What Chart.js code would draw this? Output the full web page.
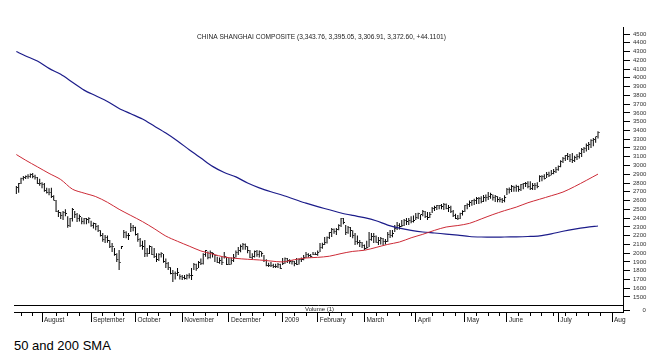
<!DOCTYPE html>
<html>
<head>
<meta charset="utf-8">
<script src="https://cdn.jsdelivr.net/npm/chart.js@4.4.1/dist/chart.umd.min.js"></script>
<style>
  body { margin: 0; background: #fff; }
  #wrap { position: relative; width: 664px; height: 364px; }
  #cap { position: absolute; left: 14px; top: 338px; font: 13px 'Liberation Sans', Arial, sans-serif; color: #000; }
</style>
</head>
<body>
<div id="wrap">
  <canvas id="chart" width="664" height="330"></canvas>
  <div id="cap">50 and 200 SMA</div>
</div>
<script>
// daily bars, trading day 1 = 17 Jul 2008 ... day 250 = 24 Jul 2009
const highs = [
  2765, 2800, 2860, 2880, 2885, 2900, 2910, 2915, 2895, 2870, 2850, 2810, 2800, 2745, 2740, 2745, 2660, 2606, 2492, 2470,
  2480, 2500, 2420, 2400, 2515, 2480, 2457, 2440, 2410, 2400, 2400, 2410, 2370, 2350, 2343, 2320, 2260, 2230, 2207, 2200,
  2150, 2116, 2060, 2000, 2036, 2081, 2264, 2250, 2230, 2343, 2320, 2300, 2230, 2172, 2140, 2150, 2060, 2090, 2080, 2059,
  2000, 2000, 2010, 1990, 1940, 1900, 1840, 1808, 1790, 1830, 1760, 1750, 1750, 1760, 1770, 1830, 1887, 1880, 1910, 1940,
  2000, 2036, 2020, 2030, 2010, 1979, 1960, 1950, 1956, 2013, 1960, 1945, 1950, 1990, 2030, 2070, 2100, 2116, 2110, 2080,
  2036, 2000, 2030, 2036, 2030, 2020, 1979, 1930, 1890, 1899, 1880, 1880, 1887, 1880, 1945, 1950, 1945, 1930, 1920, 1910,
  1945, 1940, 1950, 1980, 2013, 2000, 1990, 2013, 2010, 2030, 2116, 2120, 2184, 2190, 2240, 2287, 2280, 2287, 2330, 2400,
  2402, 2320, 2310, 2298, 2260, 2230, 2200, 2150, 2127, 2100, 2140, 2241, 2230, 2230, 2200, 2184, 2184, 2172, 2160, 2241,
  2264, 2264, 2320, 2355, 2340, 2378, 2390, 2400, 2400, 2420, 2430, 2457, 2460, 2440, 2492, 2480, 2470, 2470, 2526, 2540,
  2550, 2550, 2560, 2572, 2565, 2550, 2540, 2492, 2450, 2435, 2460, 2490, 2550, 2570, 2600, 2606, 2620, 2640, 2640, 2650,
  2663, 2670, 2697, 2690, 2670, 2663, 2650, 2640, 2628, 2660, 2743, 2750, 2777, 2770, 2780, 2770, 2790, 2800, 2811, 2820,
  2820, 2800, 2800, 2810, 2890, 2890, 2900, 2925, 2930, 2948, 2960, 2982, 3000, 3060, 3096, 3120, 3142, 3130, 3142, 3110,
  3130, 3150, 3199, 3210, 3250, 3267, 3300, 3313, 3330, 3390
];
const lows = [
  2674, 2690, 2790, 2830, 2845, 2850, 2860, 2855, 2840, 2790, 2770, 2740, 2700, 2680, 2660, 2630, 2600, 2470, 2412, 2390,
  2378, 2420, 2290, 2298, 2360, 2400, 2355, 2360, 2330, 2330, 2330, 2340, 2300, 2280, 2260, 2240, 2190, 2130, 2116, 2120,
  2060, 2013, 1970, 1900, 1808, 2047, 2172, 2170, 2150, 2241, 2250, 2200, 2130, 2070, 2040, 1956, 1960, 1990, 1980, 1945,
  1900, 1910, 1950, 1890, 1830, 1808, 1760, 1671, 1700, 1740, 1700, 1694, 1700, 1700, 1710, 1694, 1808, 1800, 1830, 1865,
  1870, 1960, 1930, 1940, 1950, 1900, 1887, 1880, 1865, 1940, 1865, 1865, 1870, 1900, 1950, 1980, 2010, 2040, 2040, 2000,
  1945, 1930, 1950, 1960, 1950, 1960, 1899, 1850, 1842, 1842, 1830, 1830, 1830, 1820, 1865, 1880, 1887, 1880, 1870, 1850,
  1865, 1870, 1900, 1920, 1945, 1950, 1950, 1979, 1980, 1970, 2013, 2050, 2093, 2110, 2160, 2184, 2220, 2207, 2260, 2298,
  2330, 2207, 2220, 2184, 2170, 2093, 2100, 2070, 2059, 2037, 2050, 2070, 2140, 2116, 2120, 2093, 2100, 2093, 2100, 2127,
  2172, 2180, 2241, 2264, 2270, 2298, 2310, 2320, 2320, 2340, 2350, 2378, 2390, 2378, 2420, 2400, 2378, 2400, 2457, 2480,
  2492, 2500, 2500, 2492, 2500, 2470, 2457, 2412, 2390, 2378, 2390, 2430, 2470, 2500, 2526, 2540, 2550, 2560, 2560, 2570,
  2583, 2590, 2606, 2620, 2600, 2583, 2580, 2580, 2572, 2580, 2663, 2680, 2697, 2700, 2700, 2700, 2708, 2730, 2754, 2740,
  2720, 2720, 2720, 2740, 2811, 2820, 2840, 2857, 2870, 2890, 2900, 2914, 2940, 2980, 3028, 3050, 3062, 3040, 3028, 3040,
  3062, 3080, 3096, 3142, 3160, 3176, 3200, 3220, 3260, 3307
];
const closes = [
  2750, 2790, 2850, 2860, 2870, 2880, 2900, 2880, 2860, 2800, 2790, 2780, 2720, 2690, 2690, 2650, 2605, 2470, 2460, 2430,
  2460, 2450, 2320, 2390, 2500, 2440, 2400, 2420, 2360, 2390, 2380, 2390, 2320, 2340, 2300, 2260, 2200, 2150, 2180, 2140,
  2080, 2080, 1990, 1930, 1895, 2075, 2236, 2200, 2200, 2297, 2293, 2210, 2150, 2092, 2074, 2000, 1993, 2073, 1990, 1960,
  1930, 1986, 1996, 1900, 1880, 1839, 1771, 1771, 1763, 1780, 1728, 1719, 1706, 1747, 1748, 1747, 1875, 1827, 1897, 1880,
  1990, 2030, 1948, 2005, 1999, 1970, 1896, 1913, 1896, 1960, 1871, 1876, 1920, 1945, 2005, 2030, 2076, 2100, 2080, 2030,
  1950, 1960, 2014, 1990, 2015, 2001, 1914, 1860, 1860, 1855, 1844, 1850, 1870, 1820, 1882, 1938, 1918, 1900, 1904, 1880,
  1870, 1928, 1932, 1954, 1979, 1975, 1965, 1990, 1990, 2011, 2060, 2100, 2120, 2180, 2230, 2265, 2250, 2270, 2318, 2390,
  2350, 2240, 2290, 2260, 2200, 2130, 2120, 2117, 2082, 2049, 2070, 2161, 2188, 2193, 2125, 2140, 2165, 2132, 2128, 2218,
  2200, 2220, 2281, 2320, 2300, 2321, 2374, 2360, 2373, 2360, 2373, 2408, 2449, 2444, 2472, 2420, 2410, 2445, 2513, 2520,
  2540, 2545, 2530, 2560, 2510, 2520, 2480, 2430, 2400, 2395, 2450, 2477, 2540, 2560, 2575, 2600, 2595, 2620, 2628, 2590,
  2640, 2640, 2647, 2670, 2640, 2645, 2610, 2612, 2605, 2632, 2722, 2730, 2760, 2750, 2760, 2730, 2780, 2790, 2795, 2760,
  2740, 2775, 2770, 2765, 2880, 2880, 2855, 2895, 2885, 2905, 2930, 2959, 2990, 3040, 3080, 3110, 3100, 3070, 3060, 3090,
  3100, 3140, 3180, 3190, 3230, 3240, 3280, 3300, 3328, 3372
];

// moving averages every 5 trading days
const smaDays = [1, 5, 10, 15, 20, 25, 30, 35, 40, 45, 50, 55, 60, 65, 70, 75, 80, 85, 90, 95, 100, 105, 110, 115, 120, 125,
  130, 135, 140, 145, 150, 155, 160, 165, 170, 175, 180, 185, 190, 195, 200, 205, 210, 215, 220, 225, 230, 235, 240, 245, 250];
const sma50 = [3125, 3060, 2985, 2910, 2840, 2730, 2685, 2645, 2580, 2500, 2430, 2360, 2280, 2195, 2135, 2080, 2025, 1990, 1955, 1940,
  1930, 1922, 1910, 1900, 1925, 1945, 1952, 1965, 1995, 2020, 2033, 2065, 2100, 2127, 2175, 2215, 2260, 2298, 2315, 2340,
  2390, 2440, 2485, 2525, 2575, 2615, 2655, 2697, 2760, 2830, 2902];
const sma200 = [4300, 4250, 4192, 4108, 4040, 3950, 3860, 3795, 3730, 3650, 3590, 3530, 3450, 3370, 3280, 3180, 3085, 2990, 2920, 2870,
  2800, 2745, 2700, 2660, 2615, 2570, 2530, 2495, 2458, 2430, 2405, 2370, 2320, 2285, 2260, 2241, 2230, 2218, 2205, 2190,
  2184, 2182, 2184, 2186, 2190, 2197, 2220, 2250, 2275, 2295, 2310];

const monthTickDays = [12, 33, 52, 72, 92, 115, 130, 150, 172, 193, 211, 233, 256];
const monthLabels = ['August', 'September', 'October', 'November', 'December', '2009', 'February', 'March', 'April', 'May', 'June', 'July', 'Aug'];
const weekTickDays = [3, 8, 18, 23, 28, 38, 43, 47, 57, 62, 67, 77, 82, 87, 97, 102, 107, 112, 120, 125, 135, 140, 145,
  155, 160, 165, 170, 179, 184, 189, 198, 203, 208, 216, 221, 226, 231, 236, 241, 246, 251];
const priceTicks = [1500, 1600, 1700, 1800, 1900, 2000, 2100, 2200, 2300, 2400, 2500, 2600, 2700, 2800, 2900, 3000,
  3100, 3200, 3300, 3400, 3500, 3600, 3700, 3800, 3900, 4000, 4100, 4200, 4300, 4400, 4500];
const volumeTicks = [0];

const title = 'CHINA SHANGHAI COMPOSITE (3,343.76, 3,395.05, 3,306.91, 3,372.60, +44.1101)';

Chart.defaults.font.family = "'Liberation Sans', Arial, sans-serif";

// little right-hand close tick
const closeMark = document.createElement('canvas');
closeMark.width = 5;
closeMark.height = 1;
closeMark.getContext('2d').fillRect(3, 0, 1, 1);

const panelText = {
    id: 'panelText',
    afterDraw(chart) {
        const ctx = chart.ctx;
        const a = chart.chartArea;
        const sep = Math.round(chart.scales.yv.top) - 0.5;
        ctx.save();
        ctx.fillStyle = '#222';
        ctx.textAlign = 'center';
        ctx.textBaseline = 'middle';
        ctx.font = "6.6px 'Liberation Sans', Arial, sans-serif";
        ctx.fillText(title, (a.left + a.right) / 2 + 3, 37);
        // volume pane
        ctx.strokeStyle = '#000';
        ctx.lineWidth = 1;
        ctx.beginPath();
        ctx.moveTo(a.left, sep);
        ctx.lineTo(a.right, sep);
        ctx.stroke();
        ctx.font = "6px 'Liberation Sans', Arial, sans-serif";
        ctx.fillText('Volume (1)', (a.left + a.right) / 2 + 1, sep + 3.5);
        ctx.restore();
    }
};

const ctx = document.getElementById('chart').getContext('2d');
new Chart(ctx, {
    type: 'bar',
    data: {
        datasets: [
            {
                type: 'line',
                label: '50 SMA',
                data: smaDays.map((d, i) => ({ x: d, y: sma50[i] })),
                borderColor: '#cc2a36',
                borderWidth: 1,
                pointRadius: 0,
                tension: 0.3,
                order: 1
            },
            {
                type: 'line',
                label: '200 SMA',
                data: smaDays.map((d, i) => ({ x: d, y: sma200[i] })),
                borderColor: '#1c1c8a',
                borderWidth: 1.2,
                pointRadius: 0,
                tension: 0.3,
                order: 1
            },
            {
                type: 'line',
                label: 'Close',
                data: closes.map((c, i) => ({ x: i + 1, y: c })),
                showLine: false,
                pointStyle: closeMark,
                order: 2
            },
            {
                label: 'High-Low',
                data: highs.map((h, i) => ({ x: i + 1, y: [lows[i], h] })),
                backgroundColor: '#000',
                barThickness: 1,
                inflateAmount: 0,
                borderWidth: 0,
                order: 3
            }
        ]
    },
    options: {
        responsive: false,
        animation: false,
        devicePixelRatio: 1,
        layout: { padding: { left: 14, top: 27, right: 0, bottom: 0 } },
        plugins: { legend: { display: false }, tooltip: { enabled: false } },
        scales: {
            x: {
                type: 'linear',
                position: 'bottom',
                weight: 1,
                min: 0,
                max: 260.7,
                offset: false,
                grid: { drawOnChartArea: false, offset: false, tickLength: 10, color: '#000' },
                border: { display: true, color: '#000' },
                ticks: {
                    autoSkip: false,
                    maxRotation: 0,
                    align: 'start',
                    labelOffset: 2,
                    padding: -6,
                    color: '#222',
                    font: { size: 6.5 },
                    callback: (v) => monthLabels[monthTickDays.indexOf(v)]
                },
                afterBuildTicks: (s) => { s.ticks = monthTickDays.map(v => ({ value: v })); },
                afterFit: (s) => { s.height = 18; }
            },
            xw: {
                type: 'linear',
                position: 'bottom',
                weight: 0,
                min: 0,
                max: 260.7,
                offset: false,
                grid: { drawOnChartArea: false, offset: false, tickLength: 4, color: '#000' },
                border: { display: false },
                ticks: { display: false },
                afterBuildTicks: (s) => { s.ticks = weekTickDays.map(v => ({ value: v })); },
                afterFit: (s) => { s.height = 0; }
            },
            y: {
                position: 'right',
                stack: 'price',
                stackWeight: 279,
                weight: 0,
                min: 1397,
                max: 4580,
                grid: { drawOnChartArea: false, tickLength: 7, color: '#000' },
                border: { display: true, color: '#000' },
                ticks: { autoSkip: false, padding: 3, color: '#333', font: { size: 6 }, callback: (v) => String(v) },
                afterBuildTicks: (s) => { s.ticks = priceTicks.map(v => ({ value: v })); },
                afterFit: (s) => { s.width = 41; }
            },
            yv: {
                position: 'right',
                stack: 'price',
                stackWeight: 6,
                weight: 1,
                min: -1,
                max: 2,
                grid: { drawOnChartArea: false, tickLength: 7, color: '#000' },
                border: { display: true, color: '#000' },
                ticks: { autoSkip: false, padding: 12.5, color: '#333', font: { size: 6 }, callback: (v) => String(v) },
                afterBuildTicks: (s) => { s.ticks = volumeTicks.map(v => ({ value: v })); },
                afterFit: (s) => { s.width = 41; }
            }
        }
    },
    plugins: [panelText]
});
</script>
</body>
</html>
